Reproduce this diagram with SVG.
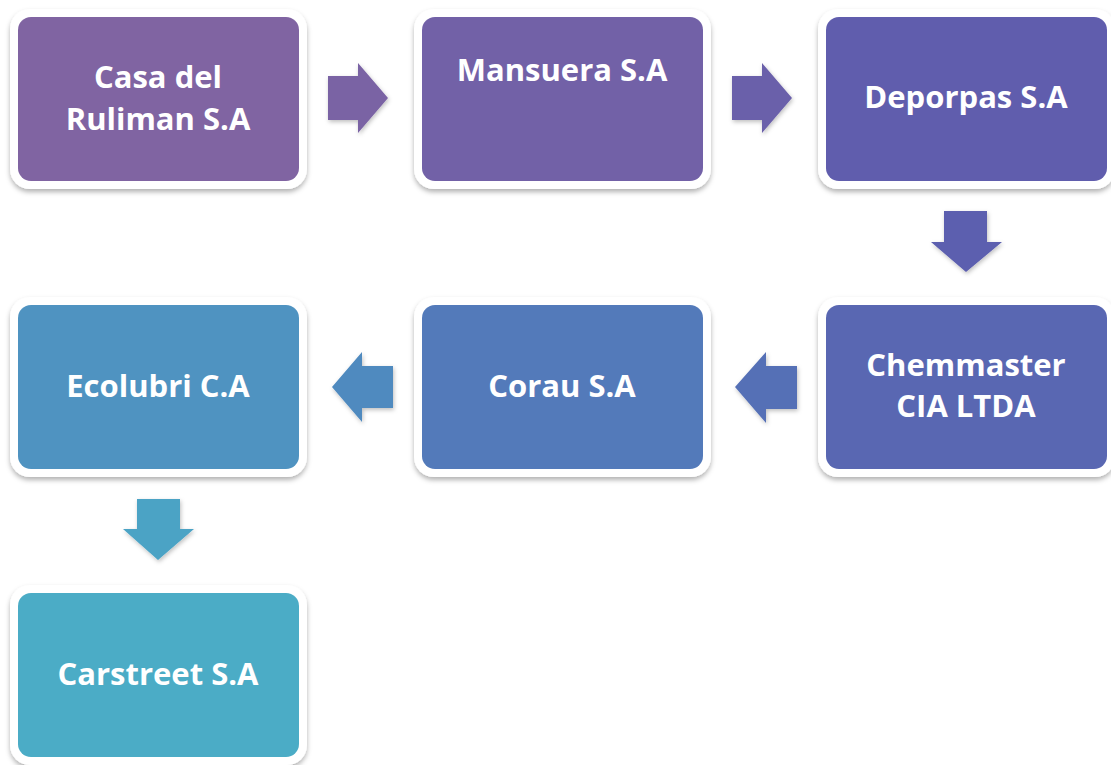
<svg xmlns="http://www.w3.org/2000/svg" width="1111" height="765" viewBox="0 0 1111 765">
<defs>
<filter id="sh" x="-10%" y="-10%" width="120%" height="130%">
<feDropShadow dx="0" dy="3" stdDeviation="2.5" flood-color="#000" flood-opacity="0.3"/>
</filter>
<filter id="ash" x="-20%" y="-20%" width="140%" height="140%">
<feDropShadow dx="1" dy="2" stdDeviation="2" flood-color="#000" flood-opacity="0.25"/>
</filter>
</defs>
<style>
.frame{fill:#ffffff;filter:url(#sh)}
.lbl{font-family:"Open Sans","Liberation Sans",sans-serif;font-weight:700;font-size:31px;fill:#ffffff;text-anchor:middle}
.arr{filter:url(#ash)}
</style>
<rect width="1111" height="765" fill="#ffffff"/>
<g id="connectors">
<path class="arr" fill="#7A63A4" d="M328,76 H358 V63 L388,98 L358,133 V120 H328 Z"/>
<path class="arr" fill="#6B60AA" d="M732,76 H762 V63 L792,98 L762,133 V120 H732 Z"/>
<path class="arr" fill="#5C5EAF" d="M944,211 H987 V242 H1002 L966,272 L931,242 H944 Z"/>
<path class="arr" fill="#5570B6" d="M797,366 H766 V352 L735,387 L766,423 V409 H797 Z"/>
<path class="arr" fill="#508ABF" d="M393,366 H362 V352 L332,387 L362,422 V408 H393 Z"/>
<path class="arr" fill="#4CA3C5" d="M137,499 H180 V529 H194 L158,560 L123,529 H137 Z"/>
</g>
<g id="n1">
<rect class="frame" x="10" y="9" width="297" height="180" rx="20"/>
<rect x="18" y="17" width="281" height="164" rx="13" fill="#8064A2"/>
<text class="lbl" x="158" y="88">Casa del</text>
<text class="lbl" x="158" y="130">Ruliman S.A</text>
</g>
<g id="n2">
<rect class="frame" x="414" y="9" width="297" height="180" rx="20"/>
<rect x="422" y="17" width="281" height="164" rx="13" fill="#7261A7"/>
<text class="lbl" x="562" y="81">Mansuera S.A</text>
</g>
<g id="n3">
<rect class="frame" x="818" y="9" width="297" height="180" rx="20"/>
<rect x="826" y="17" width="281" height="164" rx="13" fill="#605DAD"/>
<text class="lbl" x="966" y="108">Deporpas S.A</text>
</g>
<g id="n4">
<rect class="frame" x="818" y="297" width="297" height="180" rx="20"/>
<rect x="826" y="305" width="281" height="164" rx="13" fill="#5967B2"/>
<text class="lbl" x="966" y="376">Chemmaster</text>
<text class="lbl" x="966" y="417">CIA LTDA</text>
</g>
<g id="n5">
<rect class="frame" x="414" y="297" width="297" height="180" rx="20"/>
<rect x="422" y="305" width="281" height="164" rx="13" fill="#537ABA"/>
<text class="lbl" x="562" y="397">Corau S.A</text>
</g>
<g id="n6">
<rect class="frame" x="10" y="297" width="297" height="180" rx="20"/>
<rect x="18" y="305" width="281" height="164" rx="13" fill="#4F93C1"/>
<text class="lbl" x="158" y="397">Ecolubri C.A</text>
</g>
<g id="n7">
<rect class="frame" x="10" y="585" width="297" height="180" rx="20"/>
<rect x="18" y="593" width="281" height="164" rx="13" fill="#4BACC6"/>
<text class="lbl" x="158" y="685">Carstreet S.A</text>
</g>
</svg>
